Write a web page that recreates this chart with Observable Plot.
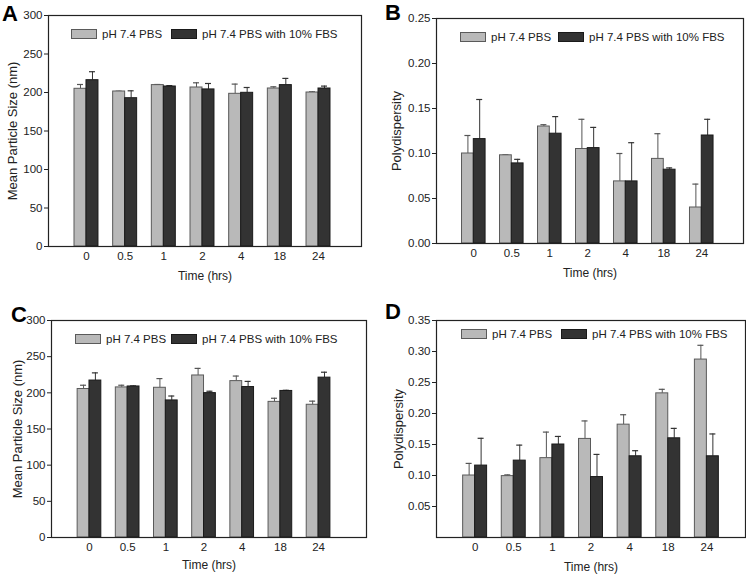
<!DOCTYPE html>
<html><head><meta charset="utf-8">
<script src="https://cdn.jsdelivr.net/npm/d3@7"></script>
<script src="https://cdn.jsdelivr.net/npm/@observablehq/plot@0.6"></script>
<style>
body{margin:0;background:#fff;font-family:"Liberation Sans",Arial,sans-serif;}
#fig{position:relative;width:746px;height:585px;background:#fff;overflow:hidden;}
.panel{position:absolute;}
.letter{position:absolute;font-weight:bold;font-size:22px;line-height:22px;color:#000;font-family:"Liberation Sans",Arial,sans-serif;}
.legend{position:absolute;display:flex;align-items:center;font-size:11.5px;color:#222;white-space:nowrap;font-family:"Liberation Sans",Arial,sans-serif;}
.sw{width:24px;height:8px;display:inline-block;box-sizing:content-box;}
.sw.l{background:#b9b9b9;border:1px solid #5a5a5a;}
.sw.d{background:#333;border:1px solid #1a1a1a;}
</style></head>
<body><div id="fig"></div>
<script>
// ---- data ----
const times = ["0", "0.5", "1", "2", "4", "18", "24"];
const seriesNames = ["pH 7.4 PBS", "pH 7.4 PBS with 10% FBS"];

// Panel A: mean particle size (nm)
const sizeA_pbs    = [204.8, 201.3, 209.6, 206.5, 198.3, 205.2, 200.0];
const sizeA_pbsErr = [5.6, 0.4, 0.8, 6.1, 12.6, 2.2, 0.9];
const sizeA_fbs    = [216.0, 192.6, 207.8, 204.0, 199.6, 209.6, 205.2];
const sizeA_fbsErr = [11.0, 9.6, 1.2, 7.7, 6.9, 8.7, 3.1];

// Panel B: polydispersity
const pdiB_pbs    = [0.100, 0.098, 0.130, 0.105, 0.069, 0.094, 0.040];
const pdiB_pbsErr = [0.020, 0.0005, 0.002, 0.033, 0.031, 0.028, 0.026];
const pdiB_fbs    = [0.116, 0.089, 0.122, 0.106, 0.069, 0.082, 0.120];
const pdiB_fbsErr = [0.044, 0.0045, 0.019, 0.023, 0.043, 0.002, 0.018];

// Panel C: mean particle size (nm)
const sizeC_pbs    = [205.3, 207.5, 207.0, 224.0, 216.2, 187.5, 183.5];
const sizeC_pbsErr = [5.2, 3.0, 12.7, 9.8, 7.0, 5.0, 5.0];
const sizeC_fbs    = [217.0, 208.8, 189.5, 199.6, 208.0, 202.6, 221.0];
const sizeC_fbsErr = [10.6, 0.8, 6.1, 2.6, 7.8, 0.9, 7.5];

// Panel D: polydispersity
const pdiD_pbs    = [0.100, 0.099, 0.128, 0.159, 0.182, 0.2325, 0.287];
const pdiD_pbsErr = [0.0195, 0.002, 0.042, 0.029, 0.016, 0.0065, 0.023];
const pdiD_fbs    = [0.116, 0.124, 0.150, 0.0975, 0.131, 0.160, 0.131];
const pdiD_fbsErr = [0.044, 0.025, 0.013, 0.0365, 0.009, 0.016, 0.036];

const sizeTicks = [0, 50, 100, 150, 200, 250, 300];
const pdiTicksB = [0, 0.05, 0.10, 0.15, 0.20, 0.25];
const pdiTicksD = [0.05, 0.10, 0.15, 0.20, 0.25, 0.30, 0.35];

const xTitle = "Time (hrs)";
const sizeTitle = "Mean Particle Size (nm)";
const pdiTitle = "Polydispersity";

// ---- drawing ----
const fig = document.getElementById("fig");
const PAD_IN = 0.38;
const FONT = "Liberation Sans, Arial, Helvetica, sans-serif";

function panel(cfg) {
  const n = times.length;
  const W = cfg.width - cfg.ml - cfg.mr;
  const step = W / (n - PAD_IN + 2 * cfg.po);
  const bw = step * (1 - PAD_IN);
  const capW = 6;
  const rows = times.map((t, i) => ({
    t,
    pbs: cfg.pbs[i], pbsHi: cfg.pbs[i] + cfg.pbsErr[i],
    fbs: cfg.fbs[i], fbsHi: cfg.fbs[i] + cfg.fbsErr[i]
  }));
  const svg = Plot.plot({
    width: cfg.width, height: cfg.height,
    marginLeft: cfg.ml, marginRight: cfg.mr, marginTop: cfg.mt, marginBottom: cfg.mb,
    style: {fontFamily: FONT, fontSize: "11.5px", color: "#222", background: "transparent", overflow: "visible"},
    x: {type: "band", domain: times, paddingInner: PAD_IN, paddingOuter: cfg.po, align: cfg.align, round: false},
    y: {domain: cfg.yDomain, nice: false},
    marks: [
      Plot.ruleX(rows, {x: "t", y1: "pbs", y2: "pbsHi", dx: -bw / 4, stroke: "#555", strokeWidth: 1}),
      Plot.tickY(rows, {x: "t", y: "pbsHi", insetLeft: bw / 4 - capW / 2, insetRight: 3 * bw / 4 - capW / 2, stroke: "#555", strokeWidth: 1.2}),
      Plot.ruleX(rows, {x: "t", y1: "fbs", y2: "fbsHi", dx: bw / 4, stroke: "#333", strokeWidth: 1}),
      Plot.tickY(rows, {x: "t", y: "fbsHi", insetLeft: 3 * bw / 4 - capW / 2, insetRight: bw / 4 - capW / 2, stroke: "#333", strokeWidth: 1.2}),
      Plot.barY(rows, {x: "t", y: "pbs", insetRight: bw / 2, fill: "#b9b9b9", stroke: "#5a5a5a", strokeWidth: 1}),
      Plot.barY(rows, {x: "t", y: "fbs", insetLeft: bw / 2, fill: "#333", stroke: "#1a1a1a", strokeWidth: 1}),
      Plot.axisY({ticks: cfg.yTicks, tickFormat: cfg.fmt, tickSize: 4, tickPadding: 2, label: null}),
      Plot.axisX({tickSize: 0, tickPadding: 5, label: null}),
      Plot.frame({stroke: "#222", strokeWidth: 1.2}),
      Plot.text([xTitle], {text: d => d, frameAnchor: "bottom", dy: cfg.xTitleDy, textAnchor: "middle", lineAnchor: "middle", fontSize: 12, fill: "#222"}),
      Plot.text([cfg.yTitle], {text: d => d, frameAnchor: "left", dx: -cfg.yTitleDx, rotate: -90, textAnchor: "middle", lineAnchor: "middle", fontSize: 13, fill: "#222"})
    ]
  });
  const wrap = document.createElement("div");
  wrap.className = "panel";
  wrap.style.left = cfg.left + "px";
  wrap.style.top = cfg.top + "px";
  wrap.style.width = cfg.width + "px";
  wrap.style.height = cfg.height + "px";
  wrap.appendChild(svg);
  fig.appendChild(wrap);

  // panel letter
  const L = document.createElement("div");
  L.className = "letter";
  L.textContent = cfg.letter;
  L.style.left = cfg.letterX + "px";
  L.style.top = cfg.letterY + "px";
  fig.appendChild(L);

  // legend (inside the frame)
  const items = [["l", seriesNames[0], cfg.leg[0]], ["d", seriesNames[1], cfg.leg[1]]];
  items.forEach(([cls, label, x]) => {
    const g = document.createElement("div");
    g.className = "legend";
    g.style.left = (cfg.left + x) + "px";
    g.style.top = (cfg.top + cfg.legY) + "px";
    g.style.height = "10px";
    const sw = document.createElement("span");
    sw.className = "sw " + cls;
    const tx = document.createElement("span");
    tx.textContent = label;
    tx.style.marginLeft = "5px";
    g.appendChild(sw); g.appendChild(tx);
    fig.appendChild(g);
  });
}

const fmtInt = d => String(d);
const fmt2 = d3.format(".2f");

panel({letter: "A", letterX: 2, letterY: 3, left: 0, top: 0, width: 373, height: 290,
  ml: 48, mr: 12, mt: 15, mb: 44, po: 0.737, align: 0.456,
  yDomain: [0, 300], yTicks: sizeTicks, fmt: fmtInt, yTitle: sizeTitle, yTitleDx: 36, xTitleDy: 30,
  pbs: sizeA_pbs, pbsErr: sizeA_pbsErr, fbs: sizeA_fbs, fbsErr: sizeA_fbsErr,
  leg: [71, 171], legY: 29});

panel({letter: "B", letterX: 385, letterY: 2, left: 373, top: 0, width: 373, height: 290,
  ml: 63, mr: 3, mt: 18, mb: 47, po: 0.73, align: 0.46,
  yDomain: [0, 0.25], yTicks: pdiTicksB, fmt: fmt2, yTitle: pdiTitle, yTitleDx: 40, xTitleDy: 30,
  pbs: pdiB_pbs, pbsErr: pdiB_pbsErr, fbs: pdiB_fbs, fbsErr: pdiB_fbsErr,
  leg: [87, 185], legY: 32});

panel({letter: "C", letterX: 11, letterY: 304, left: 0, top: 290, width: 373, height: 295,
  ml: 51, mr: 7, mt: 30, mb: 48, po: 0.815, align: 0.42,
  yDomain: [0, 300], yTicks: sizeTicks, fmt: fmtInt, yTitle: sizeTitle, yTitleDx: 34, xTitleDy: 28,
  pbs: sizeC_pbs, pbsErr: sizeC_pbsErr, fbs: sizeC_fbs, fbsErr: sizeC_fbsErr,
  leg: [75, 171], legY: 44});

panel({letter: "D", letterX: 385, letterY: 301, left: 373, top: 290, width: 373, height: 295,
  ml: 63, mr: 1, mt: 30, mb: 48, po: 0.69, align: 0.5,
  yDomain: [0, 0.35], yTicks: pdiTicksD, fmt: fmt2, yTitle: pdiTitle, yTitleDx: 38, xTitleDy: 30,
  pbs: pdiD_pbs, pbsErr: pdiD_pbsErr, fbs: pdiD_fbs, fbsErr: pdiD_fbsErr,
  leg: [88, 188], legY: 39});
</script>
</body></html>
